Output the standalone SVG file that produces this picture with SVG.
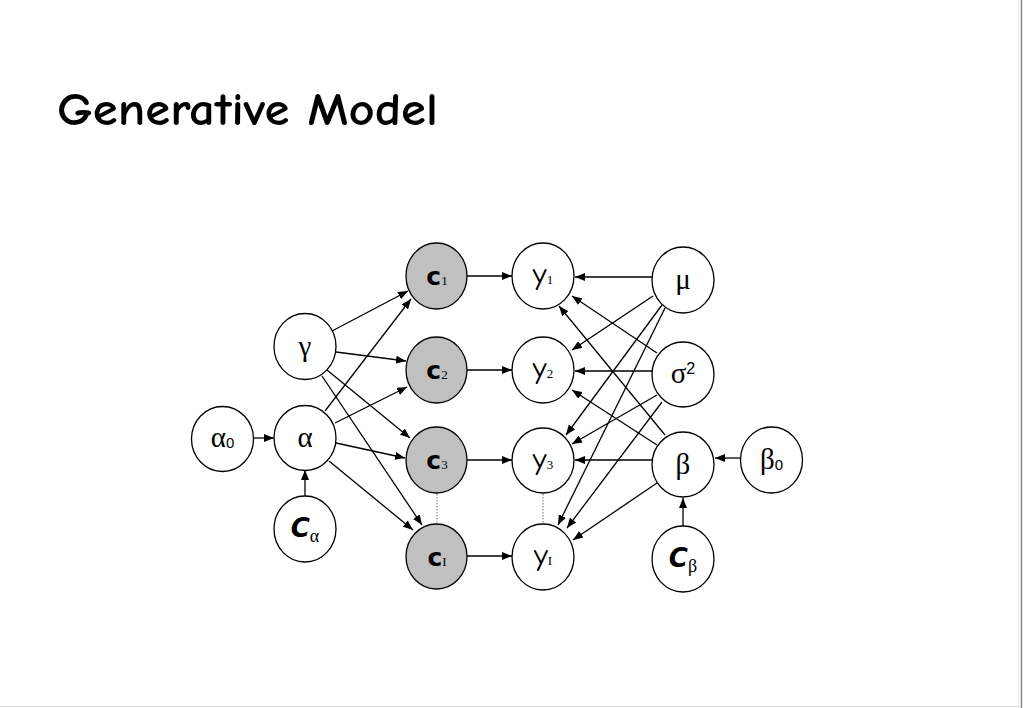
<svg xmlns="http://www.w3.org/2000/svg" width="1023" height="708" viewBox="0 0 1023 708">
<defs>
<marker id="ah" markerWidth="10" markerHeight="8" refX="10" refY="4" orient="auto" markerUnits="userSpaceOnUse">
<path d="M0,0 L10,4 L0,8 z" fill="#000"/>
</marker>
<style>
.n{fill:#fff;stroke:#000;stroke-width:1.3}
.s{fill:#c0c0c0;stroke:#000;stroke-width:1.3}
.e line{stroke:#000;stroke-width:1.3;marker-end:url(#ah)}
.d{stroke:#777;stroke-width:1;stroke-dasharray:1.5 1.5}
.g{font-family:"Liberation Serif","DejaVu Serif",serif;font-size:29px;text-anchor:middle}
.c{font-family:"DejaVu Sans","Liberation Sans",sans-serif;font-weight:bold;font-size:25px;text-anchor:middle}
.y{font-family:"Comic Neue","Comic Sans MS","DejaVu Sans",sans-serif;font-size:31px;text-anchor:middle}
.sub{font-family:"Liberation Serif",serif;font-size:13px;font-weight:normal}
.z{font-family:"Liberation Sans",sans-serif;font-size:15px}
.C{font-family:"DejaVu Sans","Liberation Sans",sans-serif;font-weight:bold;font-style:italic;font-size:26px;text-anchor:middle}
.cs{font-family:"Liberation Serif",serif;font-style:normal;font-weight:normal;font-size:18px}
</style>
</defs>
<rect x="0" y="0" width="1023" height="708" fill="#fff"/>
<line x1="1021.5" y1="0" x2="1021.5" y2="708" stroke="#888" stroke-width="1.5"/>
<line x1="1018.5" y1="0" x2="1018.5" y2="708" stroke="#eee" stroke-width="1"/>
<line x1="0" y1="706.5" x2="1020" y2="706.5" stroke="#ddd" stroke-width="1"/>
<text x="57" y="125" font-family="'Comic Neue','Comic Sans MS','DejaVu Sans',sans-serif" font-weight="bold" font-size="46" textLength="381" lengthAdjust="spacingAndGlyphs">Generative Model</text>

<g id="connectors" class="e">
<line x1="253" y1="438" x2="274" y2="438"/>
<line x1="305" y1="496" x2="305" y2="470"/>
<line x1="332" y1="331" x2="408" y2="291"/>
<line x1="325" y1="411" x2="411" y2="299"/>
<line x1="336" y1="352" x2="406" y2="361"/>
<line x1="335" y1="423" x2="407" y2="387"/>
<line x1="327" y1="370" x2="410" y2="438"/>
<line x1="322" y1="376" x2="422" y2="525"/>
<line x1="336" y1="443" x2="405" y2="458"/>
<line x1="329" y1="461" x2="413" y2="530"/>
<line x1="467" y1="276" x2="512" y2="276"/>
<line x1="467" y1="370" x2="512" y2="370"/>
<line x1="467" y1="460" x2="512" y2="460"/>
<line x1="467" y1="556" x2="512" y2="556"/>
<line x1="652" y1="277" x2="575" y2="277"/>
<line x1="653" y1="296" x2="572" y2="350"/>
<line x1="662" y1="305" x2="566" y2="435"/>
<line x1="665" y1="308" x2="558" y2="525"/>
<line x1="657" y1="353" x2="572" y2="296"/>
<line x1="652" y1="371" x2="575" y2="371"/>
<line x1="657" y1="395" x2="572" y2="444"/>
<line x1="662" y1="402" x2="567" y2="528"/>
<line x1="665" y1="435" x2="559" y2="306"/>
<line x1="657" y1="445" x2="572" y2="390"/>
<line x1="652" y1="460" x2="575" y2="460"/>
<line x1="657" y1="483" x2="573" y2="540"/>
<line x1="740" y1="458" x2="715" y2="458"/>
<line x1="683" y1="526" x2="683" y2="498"/>
<path class="d" d="M437,494 V524 M543,494 V524" fill="none"/>
</g>

<g id="alpha0"><ellipse class="n" cx="222.5" cy="439" rx="31" ry="32.5"/><text class="g" x="222.5" y="447">α<tspan class="z" dy="1">0</tspan></text></g>
<g id="alpha"><ellipse class="n" cx="305" cy="438" rx="31" ry="32.5"/><text class="g" x="305" y="447">α</text></g>
<g id="gamma"><ellipse class="n" cx="305" cy="346.5" rx="31" ry="33"/><text class="g" x="305" y="356">γ</text></g>
<g id="Calpha"><ellipse class="n" cx="305" cy="529" rx="31" ry="33"/><text class="C" x="305" y="537">C<tspan class="cs" dy="5">α</tspan></text></g>

<g id="c1"><ellipse class="s" cx="436.5" cy="276" rx="30.5" ry="33"/><text class="c" x="437" y="285">c<tspan class="sub">1</tspan></text></g>
<g id="c2"><ellipse class="s" cx="436.5" cy="370" rx="30.5" ry="33"/><text class="c" x="437" y="379">c<tspan class="sub">2</tspan></text></g>
<g id="c3"><ellipse class="s" cx="436.5" cy="460" rx="30.5" ry="33"/><text class="c" x="437" y="469">c<tspan class="sub">3</tspan></text></g>
<g id="cI"><ellipse class="s" cx="436.5" cy="556.5" rx="30.5" ry="32.5"/><text class="c" x="437" y="566">c<tspan class="sub">I</tspan></text></g>

<g id="y1"><ellipse class="n" cx="543" cy="276" rx="31" ry="33"/><text class="y" x="543" y="284">y<tspan class="sub">1</tspan></text></g>
<g id="y2"><ellipse class="n" cx="543" cy="370" rx="31" ry="33"/><text class="y" x="543" y="378">y<tspan class="sub">2</tspan></text></g>
<g id="y3"><ellipse class="n" cx="543" cy="460.5" rx="31" ry="32.5"/><text class="y" x="543" y="469">y<tspan class="sub">3</tspan></text></g>
<g id="yI"><ellipse class="n" cx="543" cy="557" rx="31" ry="33"/><text class="y" x="543" y="565">y<tspan class="sub">I</tspan></text></g>

<g id="mu"><ellipse class="n" cx="683" cy="280" rx="31" ry="33"/><text class="g" x="683" y="289">μ</text></g>
<g id="sigma2"><ellipse class="n" cx="683" cy="374.5" rx="31" ry="32.5"/><text class="g" x="683" y="383">σ<tspan font-family="'Liberation Sans',sans-serif" font-size="16" dy="-9">2</tspan></text></g>
<g id="beta"><ellipse class="n" cx="683" cy="464.5" rx="31" ry="32.5"/><text class="g" x="683" y="474">β</text></g>
<g id="beta0"><ellipse class="n" cx="771.5" cy="460" rx="31" ry="33"/><text class="g" x="771.5" y="469">β<tspan class="z" dy="1">0</tspan></text></g>
<g id="Cbeta"><ellipse class="n" cx="683" cy="559" rx="31" ry="33"/><text class="C" x="683" y="567">C<tspan class="cs" dy="5">β</tspan></text></g>
</svg>
